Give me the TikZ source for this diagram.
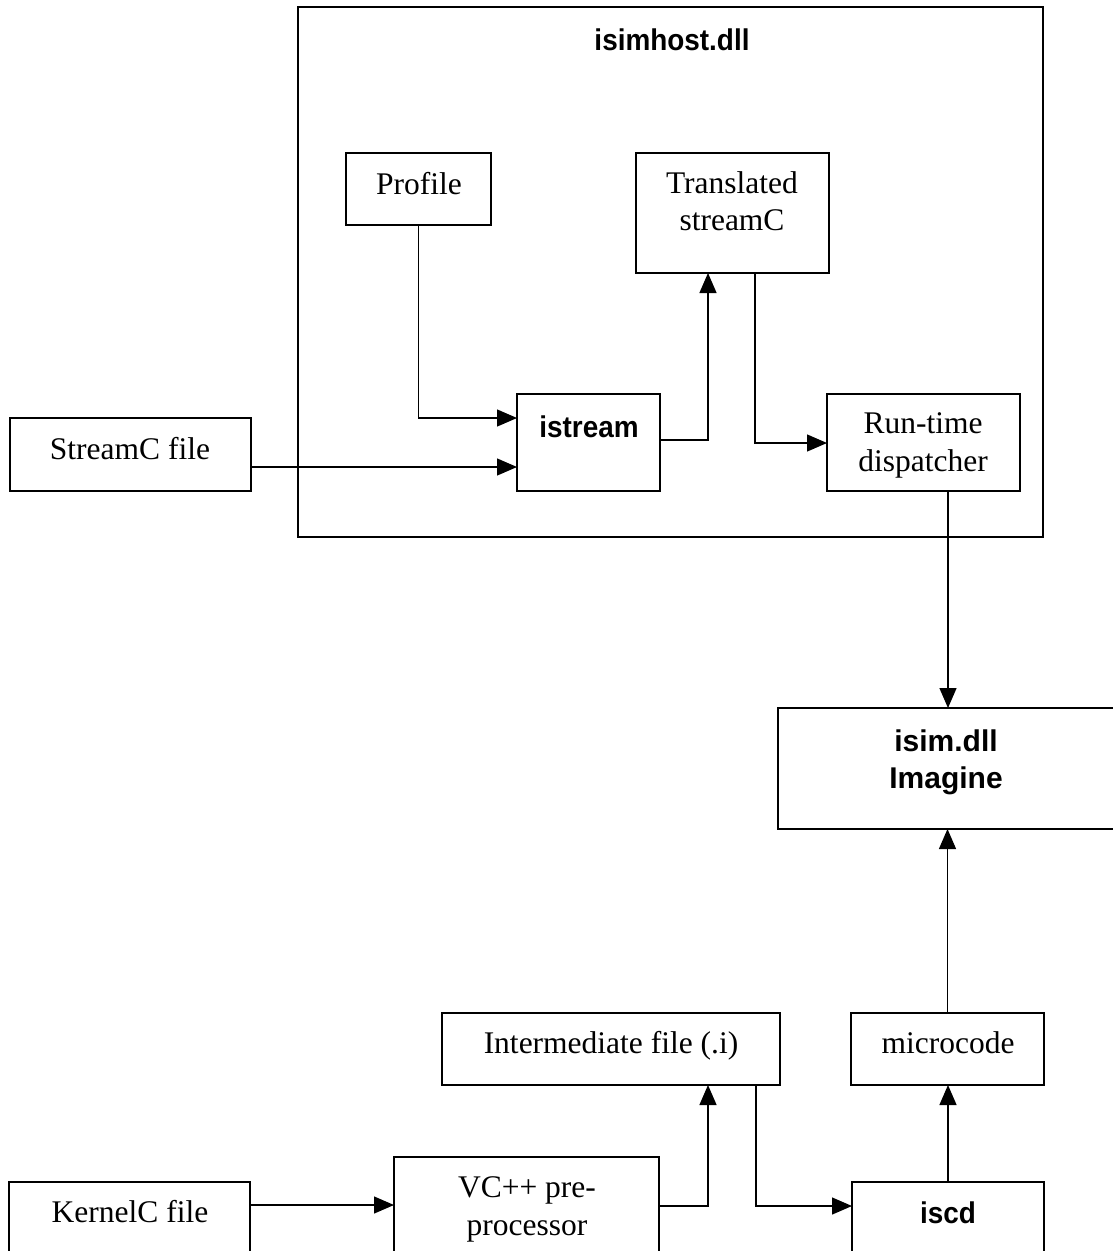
\documentclass[tikz,border=0pt]{standalone}
\usepackage{fontspec}
\setmainfont{Liberation Serif}
\newfontfamily\sansbold{Liberation Sans}[BoldFont={* Bold}]
\newfontfamily\sansnarrow{Liberation Sans}[BoldFont={* Bold},BoldFeatures={FakeStretch=0.93}]
\usetikzlibrary{arrows.meta,calc}
\tikzset{
  boxnode/.style={draw, line width=1.6pt, inner sep=0pt, outer sep=0pt, anchor=north west},
  serif/.style={anchor=base, inner sep=0pt, font=\fontsize{31.5}{37}\selectfont},
  sansw/.style={anchor=base, inner sep=0pt, font=\sansbold\bfseries\fontsize{30}{36}\selectfont},
  sansn/.style={anchor=base, inner sep=0pt, font=\sansnarrow\bfseries\fontsize{30}{36}\selectfont},
  conn/.style={line width=1.3pt, -{Triangle[length=20pt,width=17pt]}},
}
\begin{document}
\begin{tikzpicture}[x=1pt,y=-1pt]
\path[use as bounding box, clip] (0,0) rectangle (1113,1251);
\fill[white] (0,0) rectangle (1113,1251);

% outer container
\node[boxnode, minimum width=745pt, minimum height=530pt] (host) at (298,7) {};
\node[sansn] (hostT) at (672,50) {isimhost.dll};

% boxes
\node[boxnode, minimum width=145pt, minimum height=72pt] (profile) at (346,153) {};
\node[serif] (profileT) at (419,194) {Profile};

\node[boxnode, minimum width=193pt, minimum height=120pt] (trans) at (636,153) {};
\node[serif] (transT1) at (732,193) {Translated};
\node[serif] (transT2) at (732,230) {streamC};

\node[boxnode, minimum width=143pt, minimum height=97pt] (istream) at (517,394) {};
\node[sansn] (istreamT) at (589,437) {istream};

\node[boxnode, minimum width=193pt, minimum height=97pt] (runtime) at (827,394) {};
\node[serif] (runtimeT1) at (923,433) {Run-time};
\node[serif] (runtimeT2) at (923,471) {dispatcher};

\node[boxnode, minimum width=241pt, minimum height=73pt] (streamc) at (10,418) {};
\node[serif] (streamcT) at (130,459) {StreamC file};

\node[boxnode, minimum width=340pt, minimum height=121pt] (isim) at (778,708) {};
\node[sansw] (isimT1) at (946,751) {isim.dll};
\node[sansw] (isimT2) at (946,788) {Imagine};

\node[boxnode, minimum width=338pt, minimum height=72pt] (inter) at (442,1013) {};
\node[serif] (interT) at (611,1053) {Intermediate file (.i)};

\node[boxnode, minimum width=193pt, minimum height=72pt] (micro) at (851,1013) {};
\node[serif] (microT) at (948,1053) {microcode};

\node[boxnode, minimum width=265pt, minimum height=110pt] (vcpp) at (394,1157) {};
\node[serif] (vcppT1) at (527,1197) {VC++ pre-};
\node[serif] (vcppT2) at (527,1235) {processor};

\node[boxnode, minimum width=192pt, minimum height=85pt] (iscd) at (852,1182) {};
\node[sansn] (iscdT) at (948,1223) {iscd};

\node[boxnode, minimum width=241pt, minimum height=85pt] (kernel) at (9,1182) {};
\node[serif] (kernelT) at (130,1222) {KernelC file};

% connector anchor points
\coordinate (s1) at ([yshift=-49pt]streamc.north east);
\coordinate (i1) at ([yshift=-46pt]istream.north east);
\coordinate (t1) at ([xshift=119pt]trans.south west);
\coordinate (r1) at ([xshift=121pt]runtime.south west);
\coordinate (k1) at ([yshift=-23pt]kernel.north east);
\coordinate (v1) at ([yshift=-49pt]vcpp.north east);
\coordinate (m1) at ([xshift=314pt]inter.south west);

% connectors
\draw[conn] (profile.south) |- ([yshift=-24pt]istream.north west);
\draw[conn] (s1) -- (istream.west |- s1);
\draw[conn] (i1) -| ([xshift=72pt]trans.south west);
\draw[conn] (t1) |- ([yshift=-49pt]runtime.north west);
\draw[conn] (r1) -- (r1 |- isim.north);
\draw[conn] (micro.north) -- (micro.north |- isim.south);
\draw[conn] (iscd.north) -- (iscd.north |- micro.south);
\draw[conn] (k1) -- (vcpp.west |- k1);
\draw[conn] (v1) -| ([xshift=266pt]inter.south west);
\draw[conn] (m1) |- ([yshift=-24pt]iscd.north west);
\end{tikzpicture}
\end{document}
